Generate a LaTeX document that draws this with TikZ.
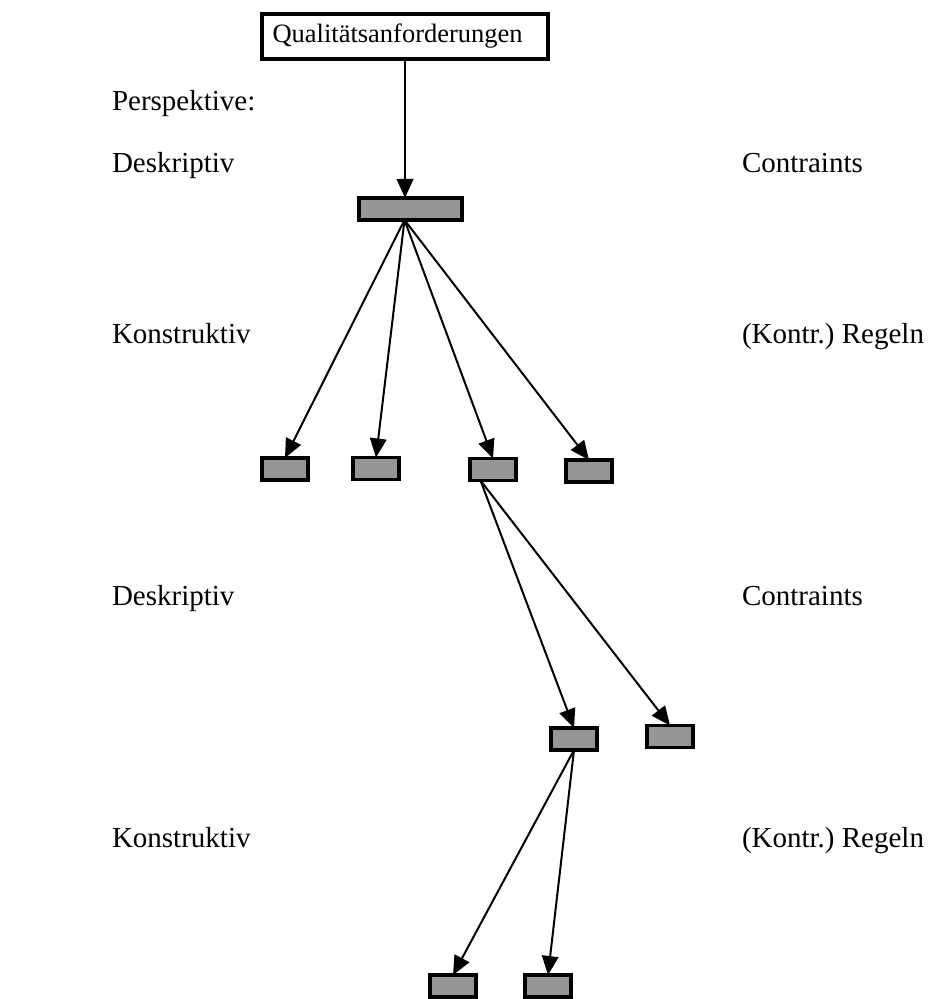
\documentclass[tikz,border=0pt]{standalone}
\usepackage{fontspec}
\setmainfont{Liberation Serif}
\usetikzlibrary{arrows.meta}
\definecolor{boxgrey}{RGB}{150,150,150}
\tikzset{
  treenode/.style = {inner sep=0pt, outer sep=0pt},
  titel/.style = {treenode, rectangle, draw=black, fill=white, line width=1.6pt,
    minimum width=114.4pt, minimum height=18pt, text width=106pt, align=left,
    font=\fontsize{10.6}{12}\selectfont},% Kopfknoten mit Text
  knoten/.style = {treenode, rectangle, draw=black, fill=boxgrey,
    line width=1.5pt, minimum width=18.4pt, minimum height=8.8pt},% grauer Knoten
  breit/.style = {knoten, minimum width=41.2pt},% breiter grauer Knoten
  ebene/.style = {anchor=base west, inner sep=0pt,
    font=\fontsize{11.6}{13}\selectfont}% Beschriftung links/rechts
}

\begin{document}
\begin{tikzpicture}[x=0.4pt,y=-0.4pt,->,>={Triangle[length=7.6pt,width=6.6pt]},
  line width=0.8pt]
\useasboundingbox (0,0) rectangle (945,999);
% Beschriftungen
\node [ebene] (persp) at (111,111) {Perspektive:};
\node [ebene] (desk1) at (111,172) {Deskriptiv};
\node [ebene] (kons1) at (111,343) {Konstruktiv};
\node [ebene] (desk2) at (111,605) {Deskriptiv};
\node [ebene] (kons2) at (111,847) {Konstruktiv};
\node [ebene] (cons1) at (741,172) {Contraints};
\node [ebene] (regel1) at (741,343) {(Kontr.)\ Regeln};
\node [ebene] (cons2) at (741,605) {Contraints};
\node [ebene] (regel2) at (741,847) {(Kontr.)\ Regeln};
% Knoten
\node [titel] (quali) at (405,36.5) {Qualitätsanforderungen};
\node [breit] (wurzel) at (410.5,209) {};
\node [knoten] (a1) at (285,469) {};
\node [knoten] (a2) at (376,468.5) {};
\node [knoten] (a3) at (493,469.5) {};
\node [knoten] (a4) at (589,471) {};
\node [knoten] (b1) at (574,739) {};
\node [knoten] (b2) at (670,736.5) {};
\node [knoten] (c1) at (453,986) {};
\node [knoten] (c2) at (548,986) {};
% Pfeile
\draw (quali.south) -- (quali.south |- wurzel.north);
\foreach \k in {a1,a2,a3,a4}
  \draw ([xshift=-2.4pt]wurzel.south) -- (\k.north);
\foreach \k in {b1,b2}
  \draw ([xshift=-5pt]a3.south) -- (\k.north);
\foreach \k in {c1,c2}
  \draw (b1.south) -- (\k.north);
\end{tikzpicture}
\end{document}
